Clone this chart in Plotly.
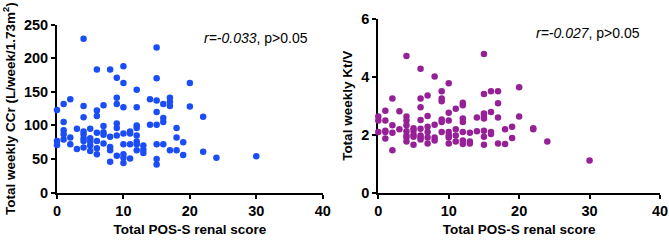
import plotly.graph_objects as go

# Left panel: Total POS-S renal score vs Total weekly CCr
score_ccr = [0,0,0, 1,1,1,1,1, 2,2,2, 3,3, 4,4,4,4,4,4,4,4, 5,5,5,5,5,
             6,6,6,6,6,6,6, 7,7,7,7,7, 8,8,8,8,8, 9,9,9,9,9,9,9,
             10,10,10,10,10,10,10,10, 11,11,11,11, 12,12,12,12,12,12,12,12,
             13,13,13, 14,14, 15,15,15,15,15,15,15,15, 16,16,16,16,
             17,17,17,17, 18,18,18, 19,19, 20,20, 22,22, 24, 30]
ccr = [123,77,71, 132,105,93,87,79, 139,82,72, 95,65,
       229,129,112,91,87,81,77,67, 95,81,76,70,62,
       183,122,114,89,77,66,57, 130,99,90,86,73, 183,83,68,63,46,
       171,141,132,103,96,85,55, 188,163,127,88,72,57,52,44,
       91,88,72,51, 153,127,100,96,85,76,72,63,
       70,64,59, 139,101, 216,170,137,120,101,72,50,42,
       132,111,105,72, 141,135,129,63, 96,82,63, 75,56, 163,128,
       113,61, 52, 54]

# Right panel: Total POS-S renal score vs Total weekly Kt/V
score_ktv = [0,0,0, 1,1,1,1,1, 2,2,2,2, 3,3, 4,4,4,4,4,4,4,4, 5,5,5,5,5,
             6,6,6,6,6,6,6,6, 7,7,7,7,7,7, 8,8,8,8, 9,9,9,9,9,9,
             10,10,10,10,10,10,10, 11,11,11,11, 12,12,12,12,12,12,12,
             13,13,13, 14,14, 15,15,15,15,15,15,15,15, 16,16,16,16,
             17,17,17,17, 18,18, 19,19, 20,20, 22,22, 24, 30]
ktv = [2.63,2.49,2.10, 2.83,2.49,2.14,2.10,1.87, 3.25,2.33,2.07,1.47,
       2.81,2.19, 4.72,2.63,2.49,2.33,2.12,1.98,1.91,1.77,
       2.23,2.14,2.00,1.93,1.66, 4.28,3.25,2.95,2.51,2.21,1.98,1.91,1.84,
       3.36,2.65,2.28,2.10,1.91,1.70, 4.01,2.35,1.91,1.80,
       3.50,3.25,3.16,2.53,2.44,2.10, 3.78,2.76,2.49,2.10,1.98,1.91,1.70,
       2.90,2.19,1.98,1.77, 3.11,3.02,2.56,2.44,2.10,1.80,1.68,
       2.07,1.77,1.70, 2.60,2.12, 4.79,3.41,2.74,2.65,2.56,2.14,1.93,1.66,
       3.50,2.79,2.10,2.03, 3.50,3.09,2.60,1.70, 2.19,1.68, 2.28,1.89,
       3.64,2.63, 2.23,2.19, 1.77, 1.11]

x_ticks = [0, 10, 20, 30, 40]
ccr_ticks = [0, 50, 100, 150, 200, 250]
ktv_ticks = [0, 2, 4, 6]

W, H = 669, 240
FONT = "Liberation Sans, Arial, sans-serif"

fig = go.Figure()
fig.add_trace(go.Scatter(x=score_ccr, y=ccr, mode="markers", xaxis="x", yaxis="y",
                         marker=dict(color="#1b4df5", size=6.5, line=dict(width=0)),
                         cliponaxis=False, showlegend=False))
fig.add_trace(go.Scatter(x=score_ktv, y=ktv, mode="markers", xaxis="x2", yaxis="y2",
                         marker=dict(color="#962196", size=6.5, line=dict(width=0)),
                         cliponaxis=False, showlegend=False))

def px_x(p):
    return p / W

def px_y(p):
    return 1 - p / H

tickfont = dict(family=FONT, size=14.5, color="black", weight="bold")
titlefont = dict(family=FONT, size=13.5, color="black", weight="bold")

common_x = dict(range=[0, 40], tickvals=x_ticks, showgrid=False, zeroline=False,
                showline=True, linecolor="black", linewidth=2, ticks="outside",
                ticklen=4, tickwidth=2, tickcolor="black", tickfont=tickfont,
                layer="below traces", automargin=False)
common_y = dict(showgrid=False, zeroline=False, showline=True, linecolor="black",
                linewidth=2, ticks="outside", ticklen=4, tickwidth=2, tickcolor="black",
                tickfont=tickfont, layer="below traces", automargin=False)

fig.update_layout(
    width=W, height=H,
    margin=dict(l=0, r=0, t=0, b=0),
    paper_bgcolor="white", plot_bgcolor="white",
    xaxis=dict(domain=[px_x(57), px_x(322.7)], anchor="y",
               title=dict(text="Total POS-S renal score", font=titlefont, standoff=6),
               **common_x),
    yaxis=dict(domain=[px_y(192.7), px_y(24.5)], anchor="x", range=[0, 250],
               tickvals=ccr_ticks,
               title=dict(text="Total weekly CCr (L/week/1.73m<sup>2</sup>)", font=titlefont,
                          standoff=5),
               **common_y),
    xaxis2=dict(domain=[px_x(378.3), px_x(660)], anchor="y2",
                title=dict(text="Total POS-S renal score", font=titlefont, standoff=6),
                **common_x),
    yaxis2=dict(domain=[px_y(192.7), px_y(19)], anchor="x2", range=[0, 6],
                tickvals=ktv_ticks,
                title=dict(text="Total weekly Kt/V", font=titlefont, standoff=6),
                **common_y),
    annotations=[
        dict(text="<i>r=-0.033</i>, p>0.05", x=px_x(256), y=px_y(38), xref="paper",
             yref="paper", showarrow=False, xanchor="center", yanchor="middle",
             font=dict(family=FONT, size=14, color="black")),
        dict(text="<i>r=-0.027</i>, p>0.05", x=px_x(588), y=px_y(33), xref="paper",
             yref="paper", showarrow=False, xanchor="center", yanchor="middle",
             font=dict(family=FONT, size=14, color="black")),
    ],
)

fig.write_html("out.html",
               config={"displayModeBar": False},
               post_script="document.body.style.margin='0px';document.body.style.padding='0px';")
